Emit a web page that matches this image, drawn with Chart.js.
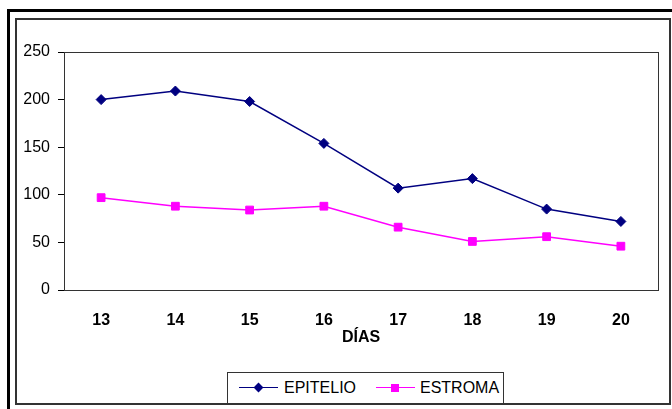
<!DOCTYPE html>
<html>
<head>
<meta charset="utf-8">
<script src="https://cdn.jsdelivr.net/npm/chart.js@4/dist/chart.umd.min.js"></script>
<style>
    body { margin: 0; background: #fff; font-family: "Liberation Sans", Arial, sans-serif; }
    #page { position: relative; width: 672px; height: 409px; overflow: hidden; }
    #outer { position: absolute; left: 7px; top: 9px; width: 700px; height: 440px; border: 3px solid #000; }
    #frame { position: absolute; left: 15px; top: 18px; width: 656px; height: 387px; border: 2px solid #333; box-sizing: border-box; }
    #chart { position: absolute; left: 0; top: 0; }
    #legend { position: absolute; left: 227px; top: 372px; width: 277px; height: 32px; border: 1px solid #333; box-sizing: border-box; background: #fff; font-size: 16px; }
    .item { position: absolute; top: 0; height: 30px; }
    .line { position: absolute; top: 14px; width: 39px; height: 0; border-top: 1.5px solid; }
    .mark { position: absolute; }
    .txt { position: absolute; top: 6px; white-space: nowrap; line-height: 18px; }
</style>
</head>
<body>
<div id="page">
    <div id="outer"></div>
    <div id="frame"></div>
    <canvas id="chart" width="672" height="409"></canvas>
    <div id="legend"></div>
</div>
<script>
const days = ['13', '14', '15', '16', '17', '18', '19', '20'];
const epitelio = [200, 209, 198, 154, 107, 117, 85, 72];
const estroma = [97, 88, 84, 88, 66, 51, 56, 46];
const yTicks = [0, 50, 100, 150, 200, 250];

const seriesNames = ['EPITELIO', 'ESTROMA'];
const seriesColors = ['#000080', '#ff00ff'];
const fontFamily = '"Liberation Sans", Arial, sans-serif';

// plot area frame (top and right sides)
const plotFrame = {
    id: 'plotFrame',
    afterDraw(chart) {
        const a = chart.chartArea;
        const ctx = chart.ctx;
        ctx.save();
        ctx.strokeStyle = '#333';
        ctx.lineWidth = 1;
        ctx.strokeRect(Math.round(a.left) + 0.5, Math.round(a.top) + 0.5, Math.round(a.right - a.left), Math.round(a.bottom - a.top));
        ctx.restore();
    }
};

new Chart(document.getElementById('chart'), {
    type: 'line',
    data: {
        labels: days,
        datasets: [{
            label: seriesNames[0],
            data: epitelio,
            borderColor: seriesColors[0],
            backgroundColor: seriesColors[0],
            borderWidth: 1.5,
            pointStyle: 'rectRot',
            pointRadius: 5,
            pointBorderWidth: 1,
            tension: 0
        }, {
            label: seriesNames[1],
            data: estroma,
            borderColor: seriesColors[1],
            backgroundColor: seriesColors[1],
            borderWidth: 1.5,
            pointStyle: 'rect',
            pointRadius: 5.5,
            pointBorderWidth: 1,
            tension: 0
        }]
    },
    options: {
        responsive: false,
        animation: false,
        layout: { padding: { left: 0, top: 52, right: 14, bottom: 62 } },
        plugins: {
            legend: { display: false },
            tooltip: { enabled: false }
        },
        scales: {
            x: {
                offset: true,
                grid: { display: false },
                border: { display: true, color: '#000', width: 1 },
                ticks: {
                    color: '#000',
                    padding: 13,
                    font: { family: fontFamily, size: 16, weight: 'bold' }
                },
                title: {
                    display: true,
                    text: 'DÍAS',
                    color: '#000',
                    padding: 0,
                    font: { family: fontFamily, size: 16, weight: 'bold' }
                },
                afterFit(scale) { scale.height = 57; }
            },
            y: {
                min: yTicks[0],
                max: yTicks[yTicks.length - 1],
                afterBuildTicks(scale) { scale.ticks = yTicks.map(v => ({ value: v })); },
                grid: { drawOnChartArea: false, drawTicks: true, tickLength: 6, color: '#000' },
                border: { display: true, color: '#000', width: 1 },
                ticks: {
                    color: '#000',
                    padding: 8,
                    font: { family: fontFamily, size: 16 }
                },
                afterFit(scale) { scale.width = 64; }
            }
        }
    },
    plugins: [plotFrame]
});

// legend: line with marker, then the name
const legend = document.getElementById('legend');
const legendItems = [
    { lineLeft: 11, textLeft: 56, shape: 'diamond' },
    { lineLeft: 148, textLeft: 192, shape: 'square' }
];
legendItems.forEach((it, i) => {
    const line = document.createElement('div');
    line.className = 'line';
    line.style.left = it.lineLeft + 'px';
    line.style.borderColor = seriesColors[i];
    legend.appendChild(line);

    const mark = document.createElement('div');
    mark.className = 'mark';
    mark.style.background = seriesColors[i];
    if (it.shape === 'diamond') {
        mark.style.width = '7px';
        mark.style.height = '7px';
        mark.style.left = (it.lineLeft + 16) + 'px';
        mark.style.top = '11px';
        mark.style.transform = 'rotate(45deg)';
    } else {
        mark.style.width = '8px';
        mark.style.height = '8px';
        mark.style.left = (it.lineLeft + 15) + 'px';
        mark.style.top = '11px';
    }
    legend.appendChild(mark);

    const txt = document.createElement('div');
    txt.className = 'txt';
    txt.style.left = it.textLeft + 'px';
    txt.textContent = seriesNames[i];
    legend.appendChild(txt);
});
</script>
</body>
</html>
